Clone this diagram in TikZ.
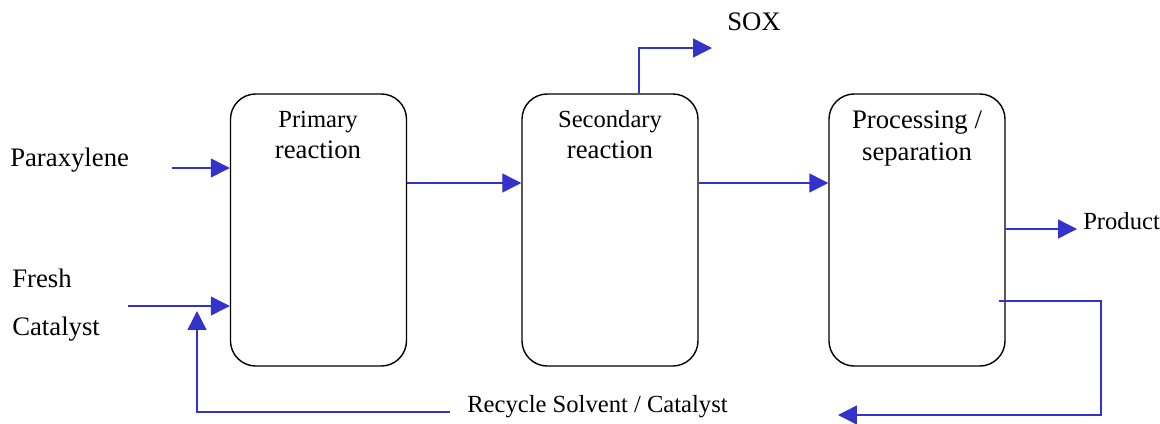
\documentclass[tikz,border=0pt]{standalone}
\usepackage{fontspec}
\setmainfont{Liberation Serif}
\usetikzlibrary{arrows.meta}
\definecolor{flowblue}{RGB}{51,51,204}

\begin{document}
\begin{tikzpicture}[x=0.025cm, y=-0.025cm,
				every node/.style = {inner sep = 0pt},
				big/.style = {font = \fontsize{19}{23}\selectfont},
				small/.style = {font = \fontsize{17.5}{21}\selectfont},
				unit/.style = {draw, line width = 1pt, rounded corners = 18pt, minimum width = 4.4cm, minimum height = 6.8cm},
				flow/.style = {flowblue, line width = 1pt, -{Triangle[length = 13.5pt, width = 13.5pt]}}]

					\useasboundingbox (0,0) rectangle (1160,423);

					% process units
					\node[unit] (prim) at (318.5,230) {};
					\node[unit] (sec) at (610,230) {};
					\node[unit] (proc) at (917,230) {};

					\node[small, anchor = base] (primA) at (318,127) {Primary};
					\node[big, anchor = base] (primB) at (318,158) {reaction};
					\node[small, anchor = base] (secA) at (610,127) {Secondary};
					\node[big, anchor = base] (secB) at (610,158) {reaction};
					\node[big, anchor = base] (procA) at (917,128) {Processing /};
					\node[big, anchor = base] (procB) at (917,160) {separation};

					% feeds
					\node[big, anchor = base west] (para) at (10,166) {Paraxylene};
					\node[big, anchor = base west] (fresh) at (12,287) {Fresh};
					\node[big, anchor = base west] (cat) at (12,335) {Catalyst};
					\coordinate (paraIn) at (172,168);
					\coordinate (freshIn) at (128,306);
					\draw[flow] (paraIn) -- (paraIn -| prim.west);
					\draw[flow] (freshIn) -- (freshIn -| prim.west);

					% main line
					\coordinate (main) at (0,183);
					\draw[flow] (prim.east |- main) -- (sec.west |- main);
					\draw[flow] (sec.east |- main) -- (proc.west |- main);

					% off gas
					\node[big, anchor = base west] (sox) at (727,30) {SOX};
					\coordinate (soxUp) at (639,48);
					\coordinate (soxOut) at (712,48);
					\draw[flow] (sec.north -| soxUp) -- (soxUp) -- (soxOut);

					% product
					\node[small, anchor = base west] (prod) at (1083,229) {Product};
					\draw[flow] (proc.east |- prod.base) -- ([xshift = -0.15cm]prod.base west);

					% recycle
					\node[small, anchor = base west] (recy) at (467,412) {Recycle Solvent / Catalyst};
					\coordinate (recOut) at (999,301);
					\coordinate (recTurn) at (1101,415);
					\coordinate (recBack) at (838,415);
					\coordinate (recUp) at (197,311);
					\draw[flow] (recOut) -| (recTurn) -- (recBack);
					\draw[flow] ([xshift = -0.42cm]recy.base west) -| (recUp);

				\end{tikzpicture}
\end{document}
